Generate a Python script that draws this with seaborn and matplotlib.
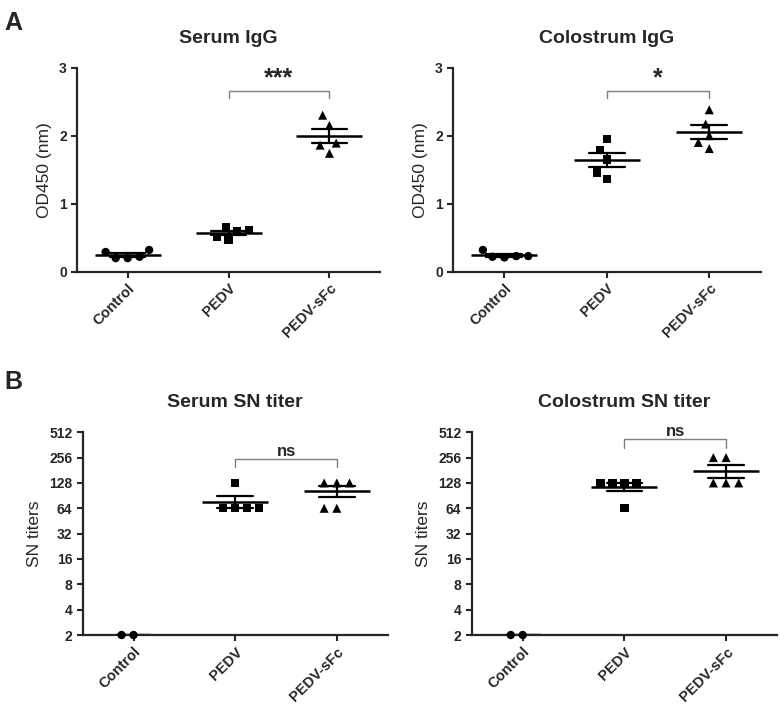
import numpy as np
import pandas as pd
import matplotlib
matplotlib.use("Agg")
import matplotlib.pyplot as plt
from matplotlib.collections import PathCollection
import seaborn as sns

groups = ["Control", "PEDV", "PEDV-sFc"]

# OD450 values (panel A)
serum_igg_control = [0.32, 0.22, 0.20, 0.20, 0.29]
serum_igg_pedv = [0.59, 0.47, 0.66, 0.51, 0.61]
serum_igg_sfc = [2.30, 2.15, 1.89, 1.86, 1.74]
colostrum_igg_control = [0.32, 0.23, 0.21, 0.22, 0.23]
colostrum_igg_pedv = [1.95, 1.79, 1.65, 1.46, 1.36]
colostrum_igg_sfc = [2.38, 2.17, 2.00, 1.90, 1.81]

# SN titers (panel B)
serum_sn_control = [2, 2]
serum_sn_pedv = [128, 64, 64, 64, 64]
serum_sn_sfc = [128, 128, 128, 64, 64]
colostrum_sn_control = [2, 2]
colostrum_sn_pedv = [128, 128, 128, 128, 64]
colostrum_sn_sfc = [256, 256, 128, 128, 128]

sn_ticks = [2, 4, 8, 16, 32, 64, 128, 256, 512]

sns.set_style("ticks")
plt.rcParams["font.family"] = ["Liberation Sans", "DejaVu Sans"]

fig = plt.figure(figsize=(7.8, 7.04), dpi=100)
axA1 = fig.add_axes([0.099, 0.614, 0.388, 0.290])
axA2 = fig.add_axes([0.581, 0.614, 0.394, 0.290])
axB1 = fig.add_axes([0.106, 0.098, 0.391, 0.288])
axB2 = fig.add_axes([0.605, 0.098, 0.391, 0.288])

markers = ["o", "s", "^"]
sizes = [6, 6, 6.5]


def dot_plot(ax, control, pedv, sfc, title, ylabel):
    sets = [control, pedv, sfc]
    df = pd.DataFrame({"group": sum([[g] * len(v) for g, v in zip(groups, sets)], []),
                       "value": sum([list(v) for v in sets], [])})
    for g, vals, m, s in zip(groups, sets, markers, sizes):
        sns.swarmplot(x=[g] * len(vals), y=vals, order=groups, marker=m, size=s,
                      color="black", edgecolor="none", linewidth=2.2, ax=ax)
    sns.pointplot(data=df, x="group", y="value", order=groups, errorbar="se",
                  capsize=0.35, color="black", marker="_", markersize=48,
                  markeredgewidth=1.8, linestyle="none",
                  err_kws={"linewidth": 1.6}, ax=ax)
    for c in ax.collections:
        if isinstance(c, PathCollection) and len(c.get_offsets()) > 0:
            c.set_clip_on(False)
    ax.set_xlim(-0.5, 2.5)
    ax.set_xlabel("")
    ax.set_ylabel(ylabel, fontsize=12.5, labelpad=5)
    ax.set_title(title, fontsize=14, fontweight="bold", pad=18)
    ax.set_xticks(range(3))
    ax.set_xticklabels(groups, rotation=45, ha="right", rotation_mode="anchor",
                       fontweight="bold", fontsize=10.5)
    ax.tick_params(direction="out", length=4, width=1.5, labelsize=10)
    ax.tick_params(axis="x", labelsize=10.5, pad=3)
    sns.despine(ax=ax)
    for sp in ["left", "bottom"]:
        ax.spines[sp].set_linewidth(1.6)


def bracket(ax, y0, y1, text, size):
    ax.plot([1, 1, 2, 2], [y0, y1, y1, y0], color="#7f7f7f", lw=1, clip_on=False)
    ax.text(1.5, y1, text, ha="center", va="bottom", fontsize=size, fontweight="bold")


dot_plot(axA1, serum_igg_control, serum_igg_pedv, serum_igg_sfc, "Serum IgG", "OD450 (nm)")
dot_plot(axA2, colostrum_igg_control, colostrum_igg_pedv, colostrum_igg_sfc, "Colostrum IgG", "OD450 (nm)")
for ax in [axA1, axA2]:
    ax.set_ylim(0, 3)
    ax.set_yticks([0, 1, 2, 3])
    ax.set_yticklabels(["0", "1", "2", "3"], fontweight="bold")
bracket(axA1, 2.56, 2.66, "***", 18)
bracket(axA2, 2.56, 2.66, "*", 18)

dot_plot(axB1, serum_sn_control, serum_sn_pedv, serum_sn_sfc, "Serum SN titer", "SN titers")
dot_plot(axB2, colostrum_sn_control, colostrum_sn_pedv, colostrum_sn_sfc, "Colostrum SN titer", "SN titers")
for ax in [axB1, axB2]:
    ax.set_yscale("log", base=2)
    ax.set_ylim(2, 512)
    ax.set_yticks(sn_ticks)
    ax.set_yticklabels([str(t) for t in sn_ticks], fontweight="bold")
    ax.minorticks_off()
bracket(axB1, 197, 247, "ns", 12)
bracket(axB2, 333, 420, "ns", 12)

fig.text(0.006, 0.958, "A", fontsize=18, fontweight="bold")
fig.text(0.006, 0.448, "B", fontsize=18, fontweight="bold")

fig.savefig("out.png", dpi=100, facecolor="white")
